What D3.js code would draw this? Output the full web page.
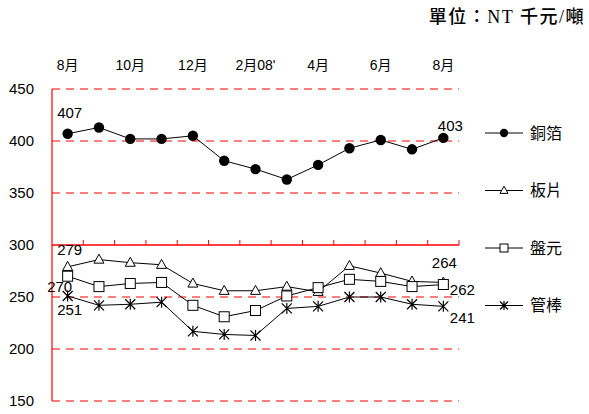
<!DOCTYPE html>
<html>
<head>
<meta charset="utf-8">
<script src="https://cdn.jsdelivr.net/npm/d3@7"></script>
<style>
  body { margin: 0; background: #fff; }
  text { font-family: Arial, "Liberation Sans", "Noto Sans CJK TC", sans-serif; }
</style>
</head>
<body>
<svg width="589" height="414"></svg>
<script>
// monthly data, Aug 07 -> Aug 08
const months = ['07/08', '07/09', '07/10', '07/11', '07/12', '08/01', '08/02',
  '08/03', '08/04', '08/05', '08/06', '08/07', '08/08'];
const monthLabels = ['8月', '10月', '12月', "2月08'", '4月', '6月', '8月'];
const yTicks = [150, 200, 250, 300, 350, 400, 450];

const foil  = [407, 413, 402, 402, 405, 381, 373, 363, 377, 393, 401, 392, 403];
const plate = [279, 286, 283, 281, 263, 256, 256, 260, 255, 280, 273, 265, 264];
const rod   = [270, 260, 263, 264, 242, 231, 237, 251, 259, 267, 265, 260, 262];
const tube  = [251, 242, 243, 245, 217, 214, 213, 239, 241, 250, 250, 243, 241];

const seriesNames = ['銅箔', '板片', '盤元', '管棒'];
const seriesValues = [foil, plate, rod, tube];
const markers = ['dot', 'tri', 'sq', 'star'];

const svg = d3.select('svg');

const x = d3.scaleBand().domain(months).range([52, 459]).padding(0);
const cx = d => x(d) + x.bandwidth() / 2;
const y = d3.scaleLinear().domain([150, 450]).range([401, 89]);

// grid lines
svg.append('g')
  .selectAll('line')
  .data(yTicks.filter(v => v !== 300))
  .join('line')
  .attr('x1', 52).attr('x2', 459)
  .attr('y1', d => y(d)).attr('y2', d => y(d))
  .style('stroke', '#ff0000')
  .style('stroke-width', 1.2)
  .style('stroke-dasharray', '8,6');

// y axis
svg.append('line')
  .attr('x1', 52).attr('x2', 52)
  .attr('y1', y(450)).attr('y2', y(150))
  .style('stroke', '#ff0000')
  .style('stroke-width', 1.2);

svg.append('g')
  .selectAll('text')
  .data(yTicks)
  .join('text')
  .attr('x', 34)
  .attr('y', d => y(d))
  .attr('dy', '0.35em')
  .attr('text-anchor', 'end')
  .style('font-size', '15px')
  .text(d => d);

// x axis at 300, tick marks upward
const x0 = y(300);
svg.append('line')
  .attr('x1', 52).attr('x2', 459)
  .attr('y1', x0).attr('y2', x0)
  .style('stroke', '#ff0000')
  .style('stroke-width', 1.5);
svg.append('g')
  .selectAll('line')
  .data(months)
  .join('line')
  .attr('x1', d => x(d) + x.bandwidth())
  .attr('x2', d => x(d) + x.bandwidth())
  .attr('y1', x0).attr('y2', x0 - 5)
  .style('stroke', '#ff0000')
  .style('stroke-width', 1);

// month labels on top
svg.append('g')
  .selectAll('text')
  .data(monthLabels)
  .join('text')
  .attr('x', (d, i) => cx(months[i * 2]))
  .attr('y', 65)
  .attr('dy', '0.35em')
  .attr('text-anchor', 'middle')
  .style('font-size', '14px')
  .text(d => d);

// unit
svg.append('text')
  .attr('x', 585).attr('y', 17)
  .attr('dy', '0.35em')
  .attr('text-anchor', 'end')
  .style('font-family', '"Liberation Serif", "Noto Sans CJK TC", serif')
  .style('font-size', '18px')
  .style('font-weight', 500)
  .style('letter-spacing', '1.5px')
  .text('單位：NT 千元/噸');

function marker(g, type, px, py, s) {
  if (type === 'dot') {
    g.append('circle').attr('cx', px).attr('cy', py).attr('r', s * 0.52)
      .style('fill', '#000');
  } else if (type === 'tri') {
    const h = s * 0.9;
    g.append('path')
      .attr('d', `M${px},${py - h * 0.6}L${px + s / 2},${py + h * 0.4}L${px - s / 2},${py + h * 0.4}Z`)
      .style('fill', '#fff').style('stroke', '#000').style('stroke-width', 1);
  } else if (type === 'sq') {
    g.append('rect').attr('x', px - s / 2).attr('y', py - s / 2)
      .attr('width', s).attr('height', s)
      .style('fill', '#fff').style('stroke', '#000').style('stroke-width', 1);
  } else {
    const r = s / 2;
    g.append('path')
      .attr('d', `M${px - r},${py - r}L${px + r},${py + r}M${px - r},${py + r}L${px + r},${py - r}M${px},${py - r * 1.1}L${px},${py + r * 1.1}`)
      .style('stroke', '#000').style('stroke-width', 1.2).style('fill', 'none');
  }
}

const line = d3.line().x((d, i) => cx(months[i])).y(d => y(d));

seriesValues.forEach((vals, k) => {
  const g = svg.append('g');
  g.append('path')
    .attr('d', line(vals))
    .style('fill', 'none')
    .style('stroke', '#000')
    .style('stroke-width', 1);
  vals.forEach((v, i) => marker(g, markers[k], cx(months[i]), y(v), 10));
});

// value labels at both ends
const labels = [
  {s: 0, i: 0, dx: 2, dy: -21},
  {s: 0, i: 12, dx: 7, dy: -12},
  {s: 1, i: 0, dx: 2, dy: -17},
  {s: 1, i: 12, dx: 1, dy: -20},
  {s: 2, i: 0, dx: -8, dy: 11},
  {s: 2, i: 12, dx: 19, dy: 5},
  {s: 3, i: 0, dx: 2, dy: 14},
  {s: 3, i: 12, dx: 19, dy: 11}
];
svg.append('g')
  .selectAll('text')
  .data(labels)
  .join('text')
  .attr('x', d => cx(months[d.i]) + d.dx)
  .attr('y', d => y(seriesValues[d.s][d.i]) + d.dy)
  .attr('dy', '0.35em')
  .attr('text-anchor', 'middle')
  .style('font-size', '15px')
  .text(d => seriesValues[d.s][d.i]);

// legend
const leg = svg.append('g');
seriesNames.forEach((name, k) => {
  const ly = 133 + k * 57.5;
  leg.append('line')
    .attr('x1', 485).attr('x2', 523)
    .attr('y1', ly).attr('y2', ly)
    .style('stroke', '#000').style('stroke-width', 1);
  marker(leg, markers[k], 504, ly, 8);
  leg.append('text')
    .attr('x', 530).attr('y', ly)
    .attr('dy', '0.35em')
    .style('font-size', '16px')
    .text(name);
});
</script>
</body>
</html>
